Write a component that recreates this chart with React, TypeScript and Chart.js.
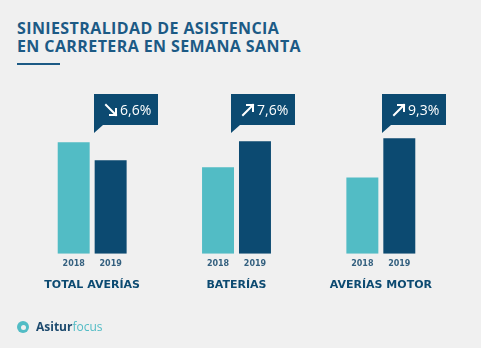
import React, { useEffect, useRef } from "react";
import { Chart, registerables } from "chart.js";

Chart.register(...registerables);

const groups = ["TOTAL AVERÍAS", "BATERÍAS", "AVERÍAS MOTOR"];
const years = ["2018", "2019"];
const values2018 = [111, 86, 76];
const values2019 = [93, 112, 115];
const changes = ["6,6%", "7,6%", "9,3%"];
const trends = ["down", "up", "up"];

const TEAL = "#52bcc5";
const NAVY = "#0c4a71";
const TITLE = "#1c5a85";
const BG = "#f0f0f0";
const calloutShift = [0, -7, 0];

const overlayPlugin = {
  id: "overlay",
  afterDatasetsDraw(chart: any) {
    const ctx = chart.ctx as CanvasRenderingContext2D;
    const area = chart.chartArea;
    const metas = [chart.getDatasetMeta(0), chart.getDatasetMeta(1)];
    ctx.save();
    ctx.font = "bold 8px 'DejaVu Sans'";
    ctx.fillStyle = "#34607f";
    ctx.textAlign = "center";
    ctx.textBaseline = "middle";
    metas.forEach((m: any, di: number) => {
      m.data.forEach((bar: any) => ctx.fillText(years[di], bar.x, area.bottom + 10));
    });
    metas[1].data.forEach((bar: any, i: number) => {
      const left = Math.round(bar.x - bar.width / 2 - 1 + calloutShift[i]);
      const top = area.top - 1;
      const w = 64, h = 31, tail = 8;
      ctx.fillStyle = NAVY;
      ctx.beginPath();
      ctx.moveTo(left, top);
      ctx.lineTo(left + w, top);
      ctx.lineTo(left + w, top + h);
      ctx.lineTo(left + 9, top + h);
      ctx.lineTo(left, top + h + tail);
      ctx.closePath();
      ctx.fill();
      ctx.strokeStyle = "#ffffff";
      ctx.lineWidth = 2;
      ctx.lineCap = "square";
      const ax = left + 12, ay = top + 11, s = 10, hd = 6;
      ctx.beginPath();
      if (trends[i] === "down") {
        ctx.moveTo(ax, ay); ctx.lineTo(ax + s, ay + s);
        ctx.moveTo(ax + s, ay + s - hd); ctx.lineTo(ax + s, ay + s); ctx.lineTo(ax + s - hd, ay + s);
      } else {
        ctx.moveTo(ax, ay + s); ctx.lineTo(ax + s, ay);
        ctx.moveTo(ax + s - hd, ay); ctx.lineTo(ax + s, ay); ctx.lineTo(ax + s, ay + hd);
      }
      ctx.stroke();
      ctx.fillStyle = "#ffffff";
      ctx.font = "14px 'Open Sans'";
      ctx.textAlign = "left";
      ctx.textBaseline = "alphabetic";
      ctx.fillText(changes[i], left + 26, top + 21);
    });
    ctx.restore();
  },
};

export default function App() {
  const ref = useRef<HTMLCanvasElement | null>(null);
  useEffect(() => {
    if (!ref.current) return;
    const chart = new Chart(ref.current, {
      type: "bar",
      data: {
        labels: groups,
        datasets: [
          { label: years[0], data: values2018, backgroundColor: TEAL, categoryPercentage: 0.512, barPercentage: 0.865 },
          { label: years[1], data: values2019, backgroundColor: NAVY, categoryPercentage: 0.512, barPercentage: 0.865 },
        ],
      },
      options: {
        responsive: false,
        animation: false,
        layout: { padding: { left: 20, right: 28, top: 95, bottom: 31 } },
        plugins: { legend: { display: false }, tooltip: { enabled: false } },
        scales: {
          x: {
            grid: { display: false, drawTicks: false },
            border: { display: false },
            ticks: { color: NAVY, padding: 25, font: { family: "'DejaVu Sans'", weight: "bold", size: 11 } },
          },
          y: { display: false, min: 0, max: 158 },
        },
      },
      plugins: [overlayPlugin],
    });
    return () => chart.destroy();
  }, []);

  return (
    <div style={{ position: "fixed", left: 0, top: 0, width: 481, height: 348, background: BG, overflow: "hidden" }}>
      <div style={{ position: "absolute", left: 17, top: 19, color: TITLE, fontFamily: "'Open Sans'", fontWeight: 700, fontSize: 16, lineHeight: "18px", letterSpacing: 0.4, whiteSpace: "nowrap" }}>
        <div>SINIESTRALIDAD DE ASISTENCIA</div>
        <div>EN CARRETERA EN SEMANA SANTA</div>
      </div>
      <div style={{ position: "absolute", left: 17, top: 63, width: 43, height: 2, background: TITLE }} />
      <canvas ref={ref} width={481} height={348} style={{ position: "absolute", left: 0, top: 0 }} />
      <div style={{ position: "absolute", left: 17, top: 321, width: 12, height: 12, borderRadius: "50%", background: TEAL }}>
        <div style={{ position: "absolute", left: 3.5, top: 3.5, width: 5, height: 5, borderRadius: "50%", background: BG }} />
      </div>
      <div style={{ position: "absolute", left: 36, top: 318, fontFamily: "'Open Sans'", fontSize: 12, lineHeight: "18px", whiteSpace: "nowrap" }}>
        <span style={{ color: "#1d4a6e", fontWeight: 700 }}>Asitur</span>
        <span style={{ color: TEAL, fontWeight: 400 }}>focus</span>
      </div>
    </div>
  );
}
